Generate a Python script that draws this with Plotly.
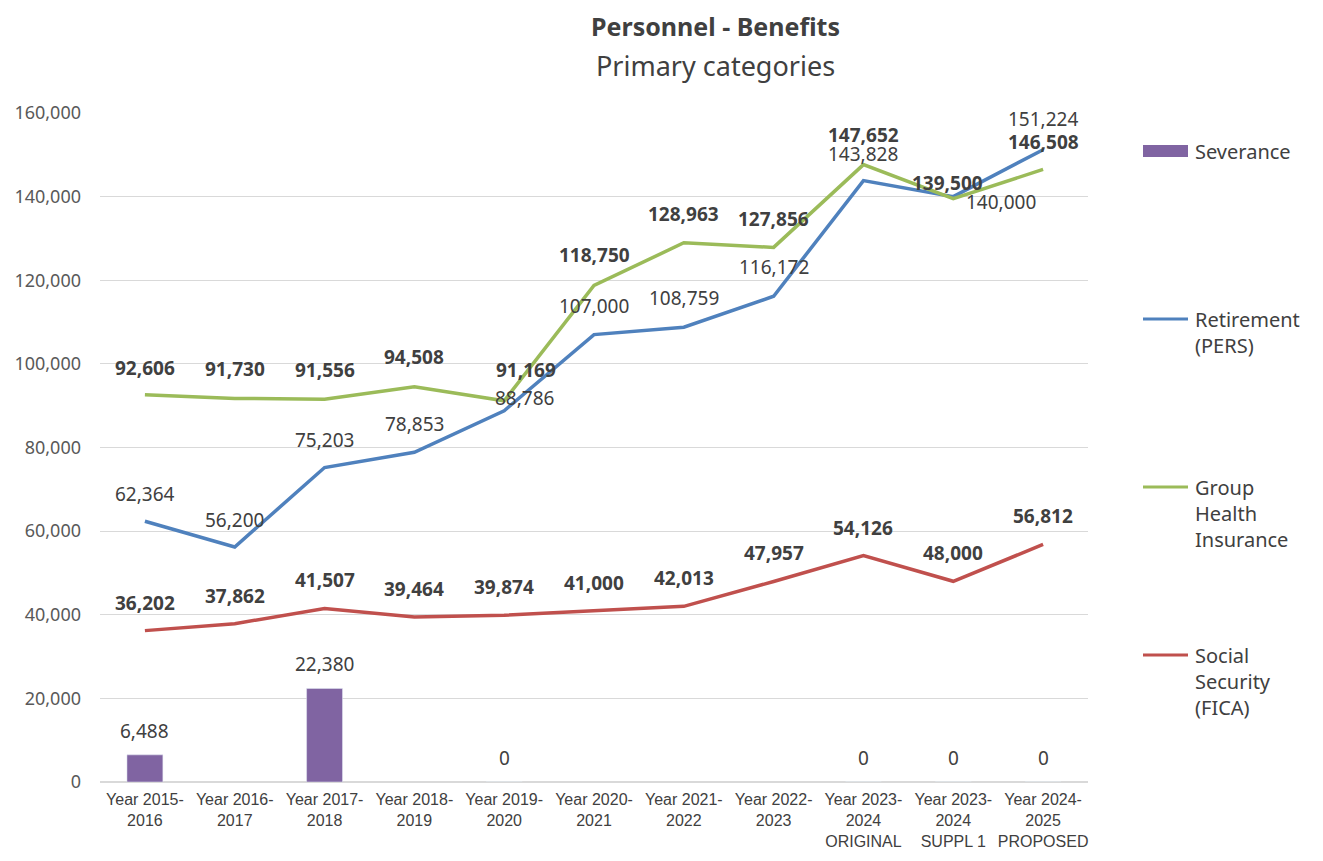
import plotly.graph_objects as go

# 数据
categories = ["Year 2015-<br>2016", "Year 2016-<br>2017", "Year 2017-<br>2018", "Year 2018-<br>2019",
              "Year 2019-<br>2020", "Year 2020-<br>2021", "Year 2021-<br>2022", "Year 2022-<br>2023",
              "Year 2023-<br>2024<br>ORIGINAL", "Year 2023-<br>2024<br>SUPPL 1", "Year 2024-<br>2025<br>PROPOSED"]
severance = [6488, None, 22380, None, 0, None, None, None, 0, 0, 0]
retirement = [62364, 56200, 75203, 78853, 88786, 107000, 108759, 116172, 143828, 140000, 151224]
group_health = [92606, 91730, 91556, 94508, 91169, 118750, 128963, 127856, 147652, 139500, 146508]
social_security = [36202, 37862, 41507, 39464, 39874, 41000, 42013, 47957, 54126, 48000, 56812]

# 标签偏移 (像素)
ret_dx = [0, 0, 0, 0, 20, 0, 0, 0, 0, 48, 0]
ret_dy = [27, 27, 28, 28, 13, 29, 29, 29, 27, -5, 31]
gh_dx = [0, 0, 0, 0, 22, 0, 0, 0, 0, -6, 0]
gh_dy = [27, 29, 29, 30, 31, 30, 29, 28, 30, 16, 27]

# 页面有8px的边距
W, H = 1323, 861
O = 8
L, R, T, B = 100 - O, 235 + O, 113 - O, 79 + O
PW, PH = W - L - R, H - T - B


def px(x):
    return (x - O - L) / PW


def py(y):
    return (H - B - (y - O)) / PH


colors = {"sev": "#8064a2", "ret": "#4f81bd", "gh": "#9bbb59", "ss": "#c0504d"}
font = "Noto Sans, Open Sans, sans-serif"
txt = "#404040"

fig = go.Figure()
fig.add_trace(go.Bar(x=categories, y=severance, marker_color=colors["sev"], width=0.4, showlegend=False))
fig.add_trace(go.Scatter(x=categories, y=retirement, mode="lines",
                         line=dict(color=colors["ret"], width=3.5), showlegend=False))
fig.add_trace(go.Scatter(x=categories, y=group_health, mode="lines",
                         line=dict(color=colors["gh"], width=3.5), showlegend=False))
fig.add_trace(go.Scatter(x=categories, y=social_security, mode="lines",
                         line=dict(color=colors["ss"], width=3.5), showlegend=False))

ann = []
for i, c in enumerate(categories):
    if severance[i] is not None:
        ann.append(dict(x=c, y=severance[i], text=f"{severance[i]:,}", yshift=24))
    ann.append(dict(x=c, y=retirement[i], text=f"{retirement[i]:,}", xshift=ret_dx[i], yshift=ret_dy[i]))
    ann.append(dict(x=c, y=group_health[i], text=f"<b>{group_health[i]:,}</b>", xshift=gh_dx[i], yshift=gh_dy[i]))
    ann.append(dict(x=c, y=social_security[i], text=f"<b>{social_security[i]:,}</b>", yshift=28))
for a in ann:
    a.update(xref="x", yref="y", showarrow=False, yanchor="middle",
             font=dict(family=font, size=19, color=txt))

# 标题
ann.append(dict(x=px(715), y=py(26), xref="paper", yref="paper", showarrow=False,
                xanchor="center", yanchor="middle",
                text="<b>Personnel - Benefits</b>", font=dict(family=font, size=25, color=txt)))
ann.append(dict(x=px(715), y=py(65), xref="paper", yref="paper", showarrow=False,
                xanchor="center", yanchor="middle",
                text="Primary categories", font=dict(family=font, size=27, color=txt)))

# 图例 (手动)
legend_items = [("Severance", colors["sev"], "bar", 151),
                ("Retirement<br>(PERS)", colors["ret"], "line", 319),
                ("Group<br>Health<br>Insurance", colors["gh"], "line", 487),
                ("Social<br>Security<br>(FICA)", colors["ss"], "line", 655)]
shapes = []
for name, col, kind, yy in legend_items:
    if kind == "bar":
        shapes.append(dict(type="rect", xref="paper", yref="paper", x0=px(1143), x1=px(1188),
                           y0=py(157), y1=py(145), fillcolor=col, line_width=0))
    else:
        shapes.append(dict(type="line", xref="paper", yref="paper", x0=px(1143), x1=px(1188),
                           y0=py(yy), y1=py(yy), line=dict(color=col, width=3)))
    ann.append(dict(x=px(1193), y=py(yy - 15), xref="paper", yref="paper", showarrow=False,
                    xanchor="left", yanchor="top", align="left", text=name,
                    font=dict(family=font, size=20, color=txt)))

fig.update_layout(
    width=W, height=H,
    margin=dict(l=L, r=R, t=T, b=B),
    plot_bgcolor="white", paper_bgcolor="white",
    annotations=ann, shapes=shapes,
    xaxis=dict(showgrid=False, showline=False, ticks="", tickangle=0, automargin=False,
               ticklabelstandoff=6,
               tickfont=dict(family="Liberation Sans Narrow, Liberation Sans, sans-serif", size=16, color=txt)),
    yaxis=dict(range=[0, 160000], dtick=20000, tickformat=",", showgrid=True, gridcolor="#d9d9d9",
               gridwidth=1, zeroline=True, zerolinecolor="#d9d9d9", zerolinewidth=1.5, showline=False,
               ticks="", ticklabelstandoff=18, automargin=False,
               tickfont=dict(family=font, size=18, color="#595959")),
)

fig.write_html("out.html")
